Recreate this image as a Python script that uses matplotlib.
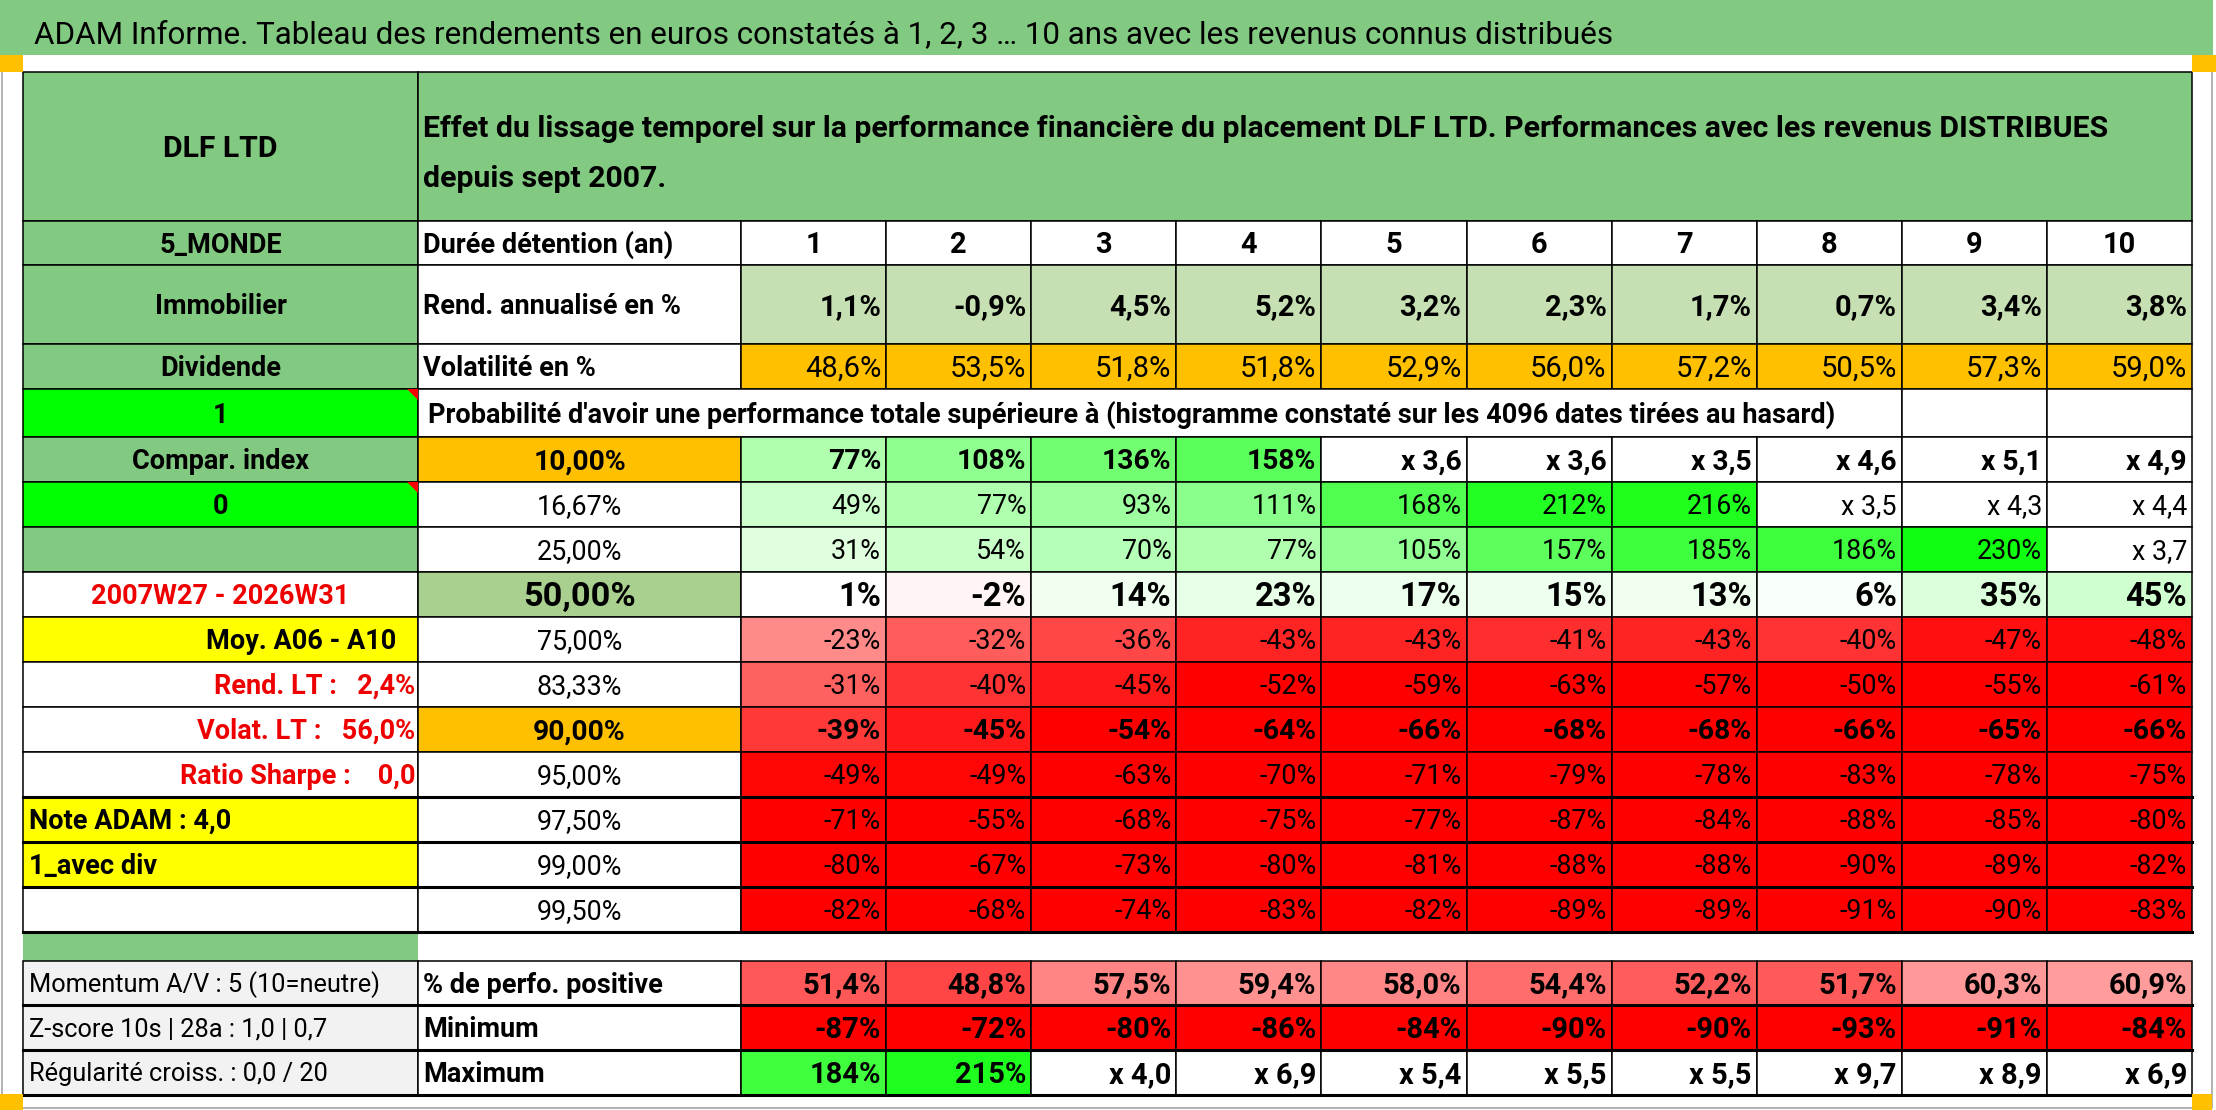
import matplotlib
matplotlib.use("Agg")
import matplotlib.pyplot as plt
from matplotlib import font_manager
from matplotlib.patches import Rectangle, Polygon

titre = "ADAM Informe. Tableau des rendements en euros constatés à 1, 2, 3 … 10 ans avec les revenus connus distribués"
nom_fonds = "DLF LTD"
entete = ["Effet du lissage temporel sur la performance financière du placement DLF LTD. Performances avec les revenus DISTRIBUES",
          "depuis sept 2007."]
texte_proba = "Probabilité d'avoir une performance totale supérieure à (histogramme constaté sur les 4096 dates tirées au hasard)"

durees = [1, 2, 3, 4, 5, 6, 7, 8, 9, 10]
rend_annualise = [1.1, -0.9, 4.5, 5.2, 3.2, 2.3, 1.7, 0.7, 3.4, 3.8]
volatilite = [48.6, 53.5, 51.8, 51.8, 52.9, 56.0, 57.2, 50.5, 57.3, 59.0]

quantiles = [10.00, 16.67, 25.00, 50.00, 75.00, 83.33, 90.00, 95.00, 97.50, 99.00, 99.50]
perf_q10 = ["77%", "108%", "136%", "158%", "x 3,6", "x 3,6", "x 3,5", "x 4,6", "x 5,1", "x 4,9"]
perf_q17 = ["49%", "77%", "93%", "111%", "168%", "212%", "216%", "x 3,5", "x 4,3", "x 4,4"]
perf_q25 = ["31%", "54%", "70%", "77%", "105%", "157%", "185%", "186%", "230%", "x 3,7"]
perf_q50 = ["1%", "-2%", "14%", "23%", "17%", "15%", "13%", "6%", "35%", "45%"]
perf_q75 = ["-23%", "-32%", "-36%", "-43%", "-43%", "-41%", "-43%", "-40%", "-47%", "-48%"]
perf_q83 = ["-31%", "-40%", "-45%", "-52%", "-59%", "-63%", "-57%", "-50%", "-55%", "-61%"]
perf_q90 = ["-39%", "-45%", "-54%", "-64%", "-66%", "-68%", "-68%", "-66%", "-65%", "-66%"]
perf_q95 = ["-49%", "-49%", "-63%", "-70%", "-71%", "-79%", "-78%", "-83%", "-78%", "-75%"]
perf_q975 = ["-71%", "-55%", "-68%", "-75%", "-77%", "-87%", "-84%", "-88%", "-85%", "-80%"]
perf_q99 = ["-80%", "-67%", "-73%", "-80%", "-81%", "-88%", "-88%", "-90%", "-89%", "-82%"]
perf_q995 = ["-82%", "-68%", "-74%", "-83%", "-82%", "-89%", "-89%", "-91%", "-90%", "-83%"]

libelles_gauche = ["5_MONDE", "Immobilier", "Dividende", "1", "Compar. index", "0", "",
                   "2007W27 - 2026W31", "Moy. A06 - A10", "Rend. LT :   2,4%", "Volat. LT :   56,0%",
                   "Ratio Sharpe :    0,0", "Note ADAM : 4,0", "1_avec div", ""]
libelles_lignes = ["Durée détention (an)", "Rend. annualisé en %", "Volatilité en %"]

libelles_bas = ["Momentum A/V : 5 (10=neutre)", "Z-score 10s | 28a : 1,0 | 0,7", "Régularité croiss. : 0,0 / 20"]
libelles_stats = ["% de perfo. positive", "Minimum", "Maximum"]
perf_positive = [51.4, 48.8, 57.5, 59.4, 58.0, 54.4, 52.2, 51.7, 60.3, 60.9]
perf_minimum = [-87, -72, -80, -86, -84, -90, -90, -93, -91, -84]
perf_maximum = ["184%", "215%", "x 4,0", "x 6,9", "x 5,4", "x 5,5", "x 5,5", "x 9,7", "x 8,9", "x 6,9"]

perf_lignes = [perf_q10, perf_q17, perf_q25, perf_q50, perf_q75, perf_q83,
               perf_q90, perf_q95, perf_q975, perf_q99, perf_q995]

# --- Couleurs ---
VERT = "#82C982"
VERT_VIF = "#00FF00"
ORANGE = "#FFC000"
JAUNE = "#FFFF00"
VERT_PALE = "#C6E0B4"
VERT_MED = "#A9D08E"
GRIS = "#F2F2F2"
ROUGE_TXT = "#EE0000"


def fmt(v, dec):
    return f"{v:.{dec}f}%".replace(".", ",")


def couleur_perf(s):
    if s.startswith("x"):
        return "white"
    v = float(s.strip("%").replace(",", "."))
    if v >= 0:
        r = 1 - min(v, 245) / 245
        return (r, 1, r)
    g = max(0.0, 1 - abs(v) / 50)
    return (1, g, g)


def couleur_positive(v):
    g = min(max(69 + 7.2 * (v - 48.8), 0), 255) / 255
    return (1, g, g)


fig = plt.figure(figsize=(22.16, 11.10), dpi=100)
ax = fig.add_axes([0, 0, 1, 1])
ax.set_xlim(0, 2216)
ax.set_ylim(1110, 0)
ax.axis("off")
rendu = fig.canvas.get_renderer()


def largeur(s, taille, gras, famille):
    t = ax.text(0, 0, s, fontsize=taille, family=famille,
                fontweight="bold" if gras else "normal")
    w = t.get_window_extent(rendu).width
    t.remove()
    return w


# police la plus étroite disponible (Calibri absente)
noms = {f.name for f in font_manager.fontManager.ttflist}
candidates = [f for f in ["Lato", "Roboto", "Liberation Sans", "Open Sans", "Noto Sans", "DejaVu Sans"] if f in noms]
FAMILLE = min(candidates, key=lambda f: largeur("Durée détention (an)", 20, True, f))


def taille_pour(s, cible, gras):
    return 20 * cible / largeur(s, 20, gras, FAMILLE)


# tailles calées sur la largeur des textes du modèle
# (les chiffres ont de la place : on les grossit un peu pour approcher la hauteur de Calibri)
K = 1.12
T_NORM = taille_pour("Durée détention (an)", 250, True)
T_REG = taille_pour("Momentum A/V : 5 (10=neutre)", 350, False)
T_GRAND = taille_pour(entete[0], 1682, True)
T_TITRE = taille_pour(titre, 1577, False)
T_50 = taille_pour("50,00%", 100, True) * K
T_REND = taille_pour("5,2%", 55, True) * K
T_VOL = taille_pour("51,8%", 68, False) * K
T_VAL = taille_pour("158%", 62, True) * K
T_Q_REG = taille_pour("111%", 58, False) * K
T_VAL_50 = taille_pour("23%", 55, True) * K
T_BAS = taille_pour("51,4%", 70, True) * K

LW = 1.1
LW_EP = 2.2


def case(x0, x1, y0, y1, fc="white", ec="black", lw=LW, z=1):
    ax.add_patch(Rectangle((x0, y0), x1 - x0, y1 - y0, facecolor=fc,
                           edgecolor=ec, linewidth=lw, zorder=z))


def texte(x, y0, y1, s, ha="center", taille=None, gras=True, couleur="black"):
    if taille is None:
        taille = T_NORM if gras else T_REG
    cap = taille / 0.72 * 0.716
    base = (y0 + y1) / 2 + cap / 2
    ax.text(x, base, s, ha=ha, va="baseline", fontsize=taille, family=FAMILLE,
            fontweight="bold" if gras else "normal", color=couleur, zorder=5)


def valeur(j, y0, y1, s, taille, gras=True):
    texte(xs[j + 1] - 5, y0, y1, s, ha="right", taille=taille, gras=gras)


# géométrie
X0, X1, X2, XR = 23, 418, 741, 2192
LC = (XR - X2) / 10
xs = [X2 + i * LC for i in range(11)]
bords = [220.7, 265, 344, 389] + [436.7 + 45 * k for k in range(12)]
bas = [960.7, 1005.3, 1050, 1094.7]

# bandeau titre
ax.add_patch(Rectangle((0, 0), 2213, 55, facecolor=VERT, edgecolor="none", zorder=1))
ax.text(34, 43, titre, ha="left", va="baseline", fontsize=T_TITRE, family=FAMILLE,
        color="black", zorder=5)
for (x, y, w, h) in [(0, 55, 23, 17), (2192, 55, 24, 17), (0, 1094, 23, 16), (2192, 1094, 20, 16)]:
    ax.add_patch(Rectangle((x, y), w, h, facecolor=ORANGE, edgecolor="none", zorder=6))
ax.add_patch(Rectangle((2, 0.5), 2210, 1107.5, facecolor="none", edgecolor="#A6A6A6",
                       linewidth=1.2, zorder=0.5))

# en-tête
case(X0, X1, 72, 220.7, VERT)
case(X1, XR, 72, 220.7, VERT)
texte((X0 + X1) / 2, 72, 220.7, nom_fonds, taille=T_GRAND)
for i, ligne in enumerate(entete):
    ax.text(423, 137 + 50 * i, ligne, ha="left", va="baseline", fontsize=T_GRAND,
            family=FAMILLE, fontweight="bold", zorder=5)

# colonne de gauche
fonds_g = [VERT, VERT, VERT, VERT_VIF, VERT, VERT_VIF, VERT, "white", JAUNE,
           "white", "white", "white", JAUNE, JAUNE, "white"]
for i, lib in enumerate(libelles_gauche):
    y0, y1 = bords[i], bords[i + 1]
    case(X0, X1, y0, y1, fonds_g[i])
    if not lib:
        continue
    coul = ROUGE_TXT if i in (7, 9, 10, 11) else "black"
    if i == 8:
        texte(X1 - 22, y0, y1, lib, ha="right", couleur=coul)
    elif i in (9, 10, 11):
        texte(X1 - 3, y0, y1, lib, ha="right", couleur=coul)
    elif i in (12, 13):
        texte(X0 + 6, y0, y1, lib, ha="left", couleur=coul)
    else:
        texte((X0 + X1) / 2, y0, y1, lib, couleur=coul)
    if i in (3, 5):
        ax.add_patch(Polygon([(X1 - 11, y0), (X1, y0), (X1, y0 + 11)], closed=True,
                             facecolor="red", edgecolor="none", zorder=4))

# lignes durée / rendement / volatilité
for i, lib in enumerate(libelles_lignes):
    y0, y1 = bords[i], bords[i + 1]
    case(X1, X2, y0, y1)
    texte(X1 + 5, y0, y1, lib, ha="left")
for j in range(10):
    y0, y1 = bords[0], bords[1]
    case(xs[j], xs[j + 1], y0, y1)
    texte((xs[j] + xs[j + 1]) / 2, y0, y1, str(durees[j]), taille=T_REND)
    y0, y1 = bords[1], bords[2]
    case(xs[j], xs[j + 1], y0, y1, VERT_PALE)
    valeur(j, y0, y1, fmt(rend_annualise[j], 1), T_REND)
    y0, y1 = bords[2], bords[3]
    case(xs[j], xs[j + 1], y0, y1, ORANGE)
    valeur(j, y0, y1, fmt(volatilite[j], 1), T_VOL, gras=False)

# ligne titre des probabilités
y0, y1 = bords[3], bords[4]
case(X1, xs[8], y0, y1)
texte(X1 + 10, y0, y1, texte_proba, ha="left")
case(xs[8], xs[9], y0, y1)
case(xs[9], xs[10], y0, y1)

# quantiles
for k, q in enumerate(quantiles):
    y0, y1 = bords[4 + k], bords[5 + k]
    gras = q in (10.0, 50.0, 90.0)
    if q == 50.0:
        t_lib, t_val = T_50, T_VAL_50
    elif gras:
        t_lib, t_val = T_VAL, T_VAL
    else:
        t_lib, t_val = T_Q_REG, T_Q_REG
    fc = ORANGE if q in (10.0, 90.0) else (VERT_MED if q == 50.0 else "white")
    case(X1, X2, y0, y1, fc)
    texte((X1 + X2) / 2, y0, y1, fmt(q, 2), taille=t_lib, gras=gras)
    for j, s in enumerate(perf_lignes[k]):
        case(xs[j], xs[j + 1], y0, y1, couleur_perf(s))
        valeur(j, y0, y1, s, t_val, gras=gras)

# séparateur
case(X0, X1, 931.7, 960.7, VERT, ec="none")

# statistiques du bas
for i in range(3):
    y0, y1 = bas[i], bas[i + 1]
    case(X0, X1, y0, y1, GRIS)
    texte(X0 + 6, y0, y1, libelles_bas[i], ha="left", gras=False)
    case(X1, X2, y0, y1)
    texte(X1 + 5, y0, y1, libelles_stats[i], ha="left")
for j in range(10):
    y0, y1 = bas[0], bas[1]
    case(xs[j], xs[j + 1], y0, y1, couleur_positive(perf_positive[j]))
    valeur(j, y0, y1, fmt(perf_positive[j], 1), T_BAS)
    y0, y1 = bas[1], bas[2]
    s = f"{perf_minimum[j]}%"
    case(xs[j], xs[j + 1], y0, y1, couleur_perf(s))
    valeur(j, y0, y1, s, T_BAS)
    y0, y1 = bas[2], bas[3]
    case(xs[j], xs[j + 1], y0, y1, couleur_perf(perf_maximum[j]))
    valeur(j, y0, y1, perf_maximum[j], T_BAS)

# traits épais
for y in [bords[12], bords[13], bords[14], bords[15]]:
    ax.plot([X0, XR], [y, y], color="black", linewidth=LW_EP, zorder=3)
for y in bas[1:]:
    ax.plot([X0, XR], [y, y], color="black", linewidth=LW_EP, zorder=3)

fig.savefig("out.png", dpi=100)
